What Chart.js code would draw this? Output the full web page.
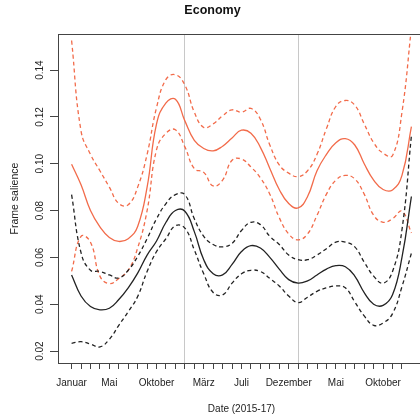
<!DOCTYPE html>
<html>
<head>
<meta charset="utf-8">
<script src="https://cdn.jsdelivr.net/npm/chart.js@4"></script>
<style>
  html, body { margin: 0; padding: 0; background: #fff; overflow: hidden; }
  #wrap { width: 420px; height: 419px; overflow: hidden; }
</style>
</head>
<body>
<div id="wrap"><canvas id="chart" width="440" height="419"></canvas></div>
<script>
// months since Januar 2015
const months = [0,1,2,3,4,5,6,7,8,9,10,11,12,13,14,15,16,17,18,19,20,21,22,23,24,25,26,27,28,29,30,31,32,33,34,35,36];

const redMean  = [0.0998,0.091,0.080,0.073,0.0685,0.0668,0.068,0.0732,0.090,0.117,0.126,0.1275,0.1183,0.110,0.1065,0.1055,0.1075,0.111,0.1143,0.113,0.107,0.098,0.089,0.083,0.0811,0.086,0.097,0.104,0.109,0.1107,0.108,0.100,0.093,0.089,0.0888,0.095,0.1158];
const redUpper = [0.1526,0.114,0.104,0.097,0.090,0.083,0.0825,0.090,0.104,0.124,0.136,0.138,0.1336,0.122,0.1155,0.117,0.1205,0.123,0.122,0.1236,0.119,0.108,0.0995,0.096,0.0945,0.097,0.104,0.115,0.1245,0.127,0.125,0.117,0.109,0.1045,0.1035,0.122,0.158];
const redLower = [0.054,0.069,0.0665,0.052,0.0488,0.051,0.0545,0.064,0.080,0.106,0.113,0.1145,0.1072,0.0979,0.0963,0.0905,0.093,0.1015,0.102,0.0986,0.094,0.087,0.077,0.070,0.0675,0.070,0.078,0.087,0.093,0.095,0.0935,0.087,0.078,0.075,0.0765,0.0797,0.0704];

const blackMean  = [0.0525,0.0435,0.039,0.0376,0.0383,0.042,0.047,0.0533,0.061,0.067,0.075,0.080,0.0797,0.071,0.059,0.053,0.0525,0.057,0.0625,0.065,0.064,0.060,0.055,0.0505,0.049,0.050,0.0525,0.055,0.0565,0.056,0.052,0.045,0.040,0.0395,0.044,0.060,0.086];
const blackUpper = [0.0868,0.062,0.0545,0.054,0.0525,0.0512,0.0545,0.0604,0.068,0.0765,0.083,0.0868,0.0868,0.0765,0.069,0.0655,0.0645,0.066,0.0715,0.075,0.074,0.069,0.0655,0.061,0.059,0.059,0.061,0.0637,0.0665,0.0665,0.0645,0.058,0.052,0.049,0.054,0.0718,0.112];
const blackLower = [0.0233,0.024,0.023,0.0218,0.025,0.031,0.0368,0.0433,0.054,0.0625,0.068,0.0735,0.0725,0.0632,0.053,0.045,0.044,0.049,0.053,0.0545,0.054,0.051,0.0478,0.0435,0.0407,0.043,0.0455,0.047,0.0478,0.047,0.041,0.035,0.031,0.032,0.036,0.0475,0.0618];

const tickMonths = [0,4,9,14,18,23,28,33];
const tickNames = ["Januar","Mai","Oktober","März","Juli","Dezember","Mai","Oktober"];
const yTicks = [0.02,0.04,0.06,0.08,0.10,0.12,0.14];
const yearLines = [12,24];

const RED = "#f26b4a";
const BLACK = "#222222";
const FONT = "'Liberation Sans', Arial, sans-serif";

function pts(values) {
  return months.map((m, i) => ({ x: m, y: values[i] }));
}

function series(values, color, dashed) {
  return {
    data: pts(values),
    borderColor: color,
    borderWidth: 1.3,
    borderDash: dashed ? [4, 3] : [],
    pointRadius: 0,
    fill: false,
    tension: 0.45,
  };
}

// frame box and rotated y labels, like base R
const frameAndLabels = {
  id: "frameAndLabels",
  afterDraw(chart) {
    let ctx = chart.ctx;
    let a = chart.chartArea;
    ctx.save();
    ctx.strokeStyle = "#444";
    ctx.lineWidth = 1;
    ctx.strokeRect(Math.round(a.left) + 0.5, Math.round(a.top) + 0.5,
      Math.round(a.right - a.left), Math.round(a.bottom - a.top));

    let y = chart.scales.y;
    ctx.fillStyle = "#222";
    ctx.font = "10px " + FONT;
    ctx.textAlign = "center";
    ctx.textBaseline = "middle";
    y.ticks.forEach((t) => {
      let py = y.getPixelForValue(t.value);
      ctx.save();
      ctx.translate(40, py);
      ctx.rotate(-Math.PI / 2);
      ctx.fillText(t.value.toFixed(2), 0, 0);
      ctx.restore();
    });
    ctx.restore();
  },
};

new Chart(document.getElementById("chart").getContext("2d"), {
  type: "line",
  data: {
    datasets: [
      series(blackUpper, BLACK, true),
      series(blackLower, BLACK, true),
      series(blackMean, BLACK, false),
      series(redUpper, RED, true),
      series(redLower, RED, true),
      series(redMean, RED, false),
    ],
  },
  options: {
    responsive: false,
    animation: false,
    layout: { padding: { top: 0, right: 15, bottom: 0, left: 0 } },
    plugins: {
      legend: { display: false },
      tooltip: { enabled: false },
      title: {
        display: true,
        text: "Economy",
        color: "#111",
        font: { family: FONT, size: 12.5, weight: "bold" },
        padding: { top: 3, bottom: 16 },
      },
    },
    scales: {
      x: {
        type: "linear",
        min: -1.44,
        max: 37.44,
        afterBuildTicks: (scale) => {
          scale.ticks = months.slice(0, 36).map((m) => ({ value: m }));
        },
        afterFit: (scale) => {
          scale.height = 56;
        },
        ticks: {
          autoSkip: false,
          maxRotation: 0,
          minRotation: 0,
          padding: 8,
          color: "#222",
          font: { family: FONT, size: 10 },
          callback: (value) => {
            let i = tickMonths.indexOf(value);
            return i >= 0 ? tickNames[i] : "";
          },
        },
        grid: {
          drawOnChartArea: true,
          color: (c) => (yearLines.includes(c.tick && c.tick.value) ? "#c8c8c8" : "rgba(0,0,0,0)"),
          tickColor: "#444",
          tickLength: 6,
          lineWidth: 1,
        },
        border: { display: false },
        title: {
          display: true,
          text: "Date (2015-17)",
          color: "#222",
          font: { family: FONT, size: 10 },
          padding: { top: 0, bottom: 4 },
        },
      },
      y: {
        min: 0.0149,
        max: 0.1554,
        afterBuildTicks: (scale) => {
          scale.ticks = yTicks.map((v) => ({ value: v }));
        },
        afterFit: (scale) => {
          scale.width = 58;
        },
        ticks: { display: false },
        grid: {
          drawOnChartArea: false,
          tickColor: "#444",
          tickLength: 8,
        },
        border: { display: false },
        title: {
          display: true,
          text: "Frame salience",
          color: "#222",
          font: { family: FONT, size: 10.5 },
          padding: { top: 9, bottom: 0 },
        },
      },
    },
  },
  plugins: [frameAndLabels],
});
</script>
</body>
</html>
